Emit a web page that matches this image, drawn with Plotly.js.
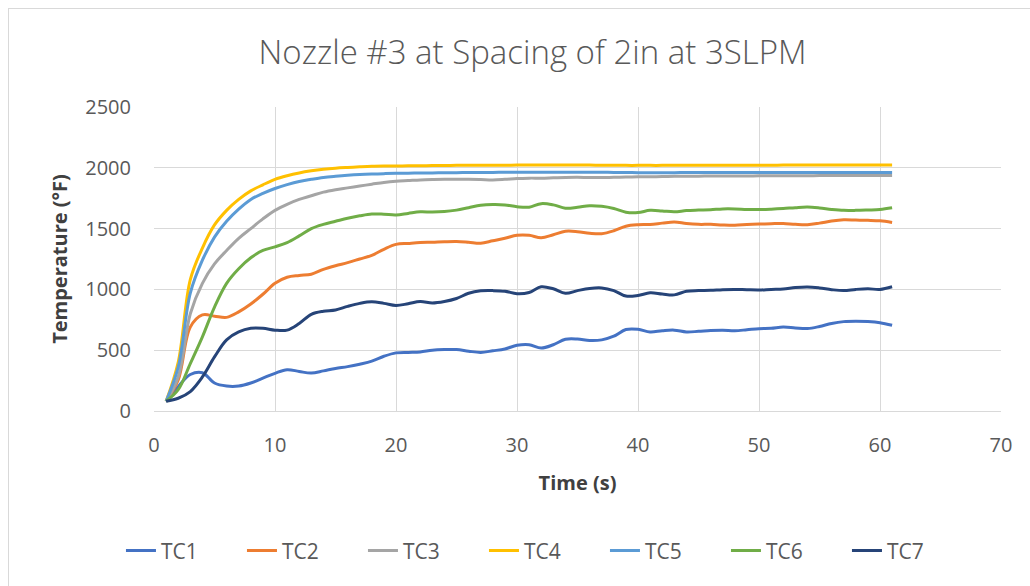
<!DOCTYPE html>
<html>
<head>
<meta charset="utf-8">
<script src="https://cdn.plot.ly/plotly-3.0.1.min.js"></script>
<style>
html,body{margin:0;padding:0;background:#fff;overflow:hidden;}
#frame{position:absolute;left:8px;top:8px;width:1100px;height:700px;border:1px solid #d9d9d9;}
#chart{position:absolute;left:0;top:0;width:1030px;height:586px;}
</style>
</head>
<body>
<div id="frame"></div>
<div id="chart"></div>
<script>
const time = [1,2,3,4,5,6,7,8,9,10,11,12,13,14,15,16,17,18,19,20,21,22,23,24,25,26,27,28,29,30,31,32,33,34,35,36,37,38,39,40,41,42,43,44,45,46,47,48,49,50,51,52,53,54,55,56,57,58,59,60,61];

const TC1 = [80,200,300,315,230,205,205,230,270,310,340,325,312,330,350,365,385,410,450,478,482,485,500,505,505,492,482,495,510,540,545,518,545,590,592,580,585,615,670,672,650,660,665,650,655,662,665,660,668,677,680,690,683,678,695,720,735,738,735,726,705];
const TC2 = [80,255,690,790,780,770,815,880,960,1050,1100,1115,1125,1165,1195,1220,1250,1280,1330,1370,1378,1385,1388,1392,1394,1388,1380,1400,1420,1445,1445,1425,1450,1478,1475,1462,1458,1482,1520,1532,1534,1545,1555,1542,1535,1535,1530,1528,1533,1537,1540,1542,1535,1532,1545,1562,1572,1570,1568,1564,1550];
const TC3 = [80,280,800,1050,1210,1320,1420,1500,1580,1650,1700,1740,1770,1800,1820,1835,1850,1865,1880,1890,1895,1900,1903,1905,1905,1905,1903,1900,1905,1912,1915,1915,1918,1921,1922,1920,1920,1922,1924,1926,1927,1928,1930,1930,1931,1932,1932,1933,1933,1934,1934,1935,1935,1935,1936,1936,1936,1937,1937,1937,1937];
const TC4 = [80,400,1080,1340,1530,1650,1740,1810,1860,1905,1935,1958,1975,1988,1997,2003,2008,2012,2014,2015,2016,2017,2018,2019,2020,2020,2021,2021,2021,2022,2022,2022,2022,2022,2022,2022,2021,2021,2020,2020,2020,2020,2021,2021,2021,2021,2021,2021,2021,2021,2021,2022,2022,2022,2022,2022,2022,2022,2022,2022,2022];
const TC5 = [80,360,970,1240,1430,1560,1660,1740,1790,1830,1862,1888,1905,1920,1930,1938,1944,1948,1952,1955,1956,1957,1958,1959,1960,1961,1962,1962,1963,1963,1963,1963,1964,1964,1964,1963,1963,1962,1961,1960,1960,1960,1960,1961,1961,1961,1961,1962,1962,1962,1962,1962,1962,1962,1962,1962,1962,1962,1962,1962,1962];
const TC6 = [80,175,390,610,855,1050,1170,1260,1320,1350,1385,1440,1500,1535,1560,1585,1605,1620,1618,1612,1625,1638,1636,1640,1652,1672,1692,1698,1695,1680,1676,1705,1695,1668,1675,1688,1683,1665,1635,1632,1650,1645,1638,1648,1652,1655,1662,1662,1658,1657,1660,1665,1672,1677,1670,1658,1650,1650,1653,1657,1671];
const TC7 = [80,105,160,280,445,585,650,680,680,665,665,720,795,820,830,860,885,898,885,868,882,900,888,900,925,968,988,990,985,965,975,1022,1005,968,990,1008,1012,990,945,950,972,962,955,985,990,992,998,1000,997,995,1000,1003,1015,1020,1012,998,990,1000,1005,1000,1022];

const seriesNames = ['TC1','TC2','TC3','TC4','TC5','TC6','TC7'];
const seriesData = [TC1,TC2,TC3,TC4,TC5,TC6,TC7];
const colors = ['#4472C4','#ED7D31','#A5A5A5','#FFC000','#5B9BD5','#70AD47','#264478'];

const FONT = "'Open Sans', 'Noto Sans', sans-serif";

const traces = seriesNames.map((n,i)=>({
  x: time, y: seriesData[i], name: n, type:'scatter', mode:'lines',
  line:{color:colors[i], width:3, shape:'spline', smoothing:1},
  hoverinfo:'skip'
}));

const layout = {
  width:1030, height:586,
  margin:{l:154, r:29, t:107, b:175, autoexpand:false},
  paper_bgcolor:'rgba(0,0,0,0)', plot_bgcolor:'rgba(0,0,0,0)',
  font:{family:FONT, color:'#595959'},
  title:{text:'Nozzle #3 at Spacing of 2in at 3SLPM', font:{family:FONT, size:33, color:'#595959', weight:300},
         x:0.517, xref:'container', xanchor:'center', y:1-52/586, yref:'container', yanchor:'middle'},
  xaxis:{range:[0,70], dtick:10, tick0:0, showgrid:true, gridcolor:'#d9d9d9', gridwidth:1,
         zeroline:false, showline:true, linecolor:'#d9d9d9', linewidth:1, ticks:'',
         ticklabelstandoff:16, automargin:false,
         tickfont:{family:FONT, size:20, color:'#595959'},
         title:{text:'<b>Time (s)</b>', font:{family:FONT, size:20, color:'#404040'}, standoff:18}},
  yaxis:{range:[0,2500], dtick:500, tick0:0, showgrid:true, gridcolor:'#d9d9d9', gridwidth:1,
         zeroline:false, showline:false, ticks:'', automargin:false,
         ticklabelstandoff:22,
         tickfont:{family:FONT, size:20, color:'#595959'},
         title:{text:'<b>Temperature (°F)</b>', font:{family:FONT, size:20, color:'#404040'}, standoff:12}},
  showlegend:true,
  legend:{orientation:'h', x:0.461, xanchor:'center', y:-0.46, yanchor:'middle',
          font:{family:FONT, size:21, color:'#595959'}, entrywidth:76, entrywidthmode:'pixels',
          traceorder:'normal', bgcolor:'rgba(0,0,0,0)'}
};

Plotly.newPlot('chart', traces, layout, {staticPlot:true, displayModeBar:false});
</script>
</body>
</html>
